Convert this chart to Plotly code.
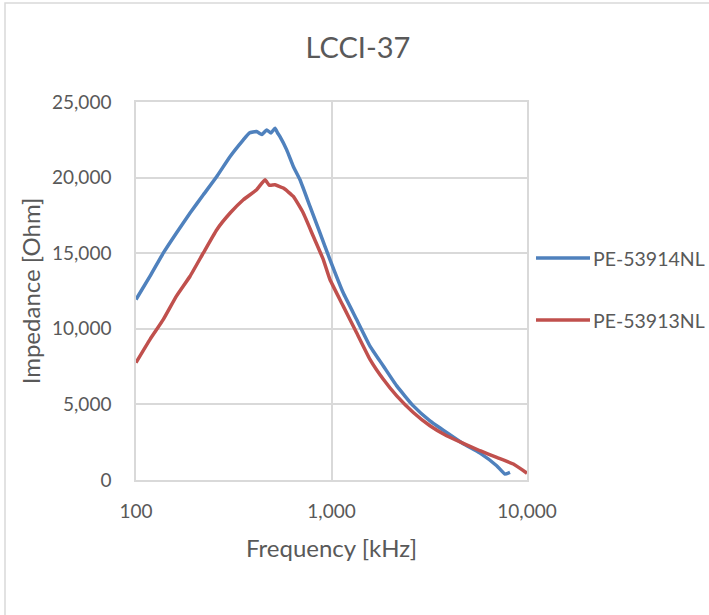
import plotly.graph_objects as go

# Series PE-53914NL (blue)
freq_914 = [100, 118, 138, 161, 189, 221, 259, 303, 354, 380, 414, 440, 466, 490, 514, 530, 545,
            590, 638, 690, 776, 873, 982, 1148, 1344, 1573, 1841, 2156, 2621, 3189, 3879,
            4722, 5750, 6998, 7709, 8186]
imp_914 = [11939, 13478, 15018, 16337, 17656, 18865, 20075, 21394, 22493, 22950, 23043, 22850,
           23153, 22950, 23263, 22950, 22713, 21834, 20734, 19855, 18096, 16337, 14578, 12379,
           10620, 8861, 7542, 6223, 4903, 3914, 3144, 2400, 1780, 945, 396, 506]

# Series PE-53913NL (red)
freq_913 = [100, 118, 138, 161, 189, 221, 259, 303, 354, 414, 457, 480, 514, 567, 638, 717, 807,
            908, 982, 1148, 1344, 1573, 1841, 2156, 2621, 3189, 3879, 4722, 5750, 6998, 8519, 10000]
imp_913 = [7761, 9301, 10620, 12159, 13478, 15018, 16557, 17656, 18536, 19195, 19855, 19500,
           19525, 19305, 18755, 17656, 16117, 14578, 13258, 11500, 9741, 7982, 6662, 5563, 4464,
           3584, 2924, 2420, 1935, 1495, 1055, 450]

series_names = ["PE-53914NL", "PE-53913NL"]
series_colors = ["#4F81BD", "#C0504D"]

x_ticks = [100, 1000, 10000]
x_ticklabels = ["100", "1,000", "10,000"]
y_ticks = [0, 5000, 10000, 15000, 20000, 25000]
y_ticklabels = ["0", "5,000", "10,000", "15,000", "20,000", "25,000"]

FONT = "Lato, 'Open Sans', sans-serif"
TXT = "#595959"
GRID = "#d9d9d9"

fig = go.Figure()
for fx, fy, nm, col in [(freq_914, imp_914, series_names[0], series_colors[0]),
                        (freq_913, imp_913, series_names[1], series_colors[1])]:
    fig.add_trace(go.Scatter(x=fx, y=fy, mode="lines", name=nm, showlegend=False,
                             line=dict(color=col, width=3.5, shape="spline", smoothing=0.4)))

# plot area: x 136..527, y 102..480 (pixels)
PL, PR, PT, PB = 136, 527, 102, 480
PW, PH = PR - PL, PB - PT

def px(x):
    return (x - PL) / PW

def py(y):
    return (PB - y) / PH

fig.update_layout(
    width=709, height=615,
    margin=dict(l=PL, r=709 - PR, t=PT, b=615 - PB),
    paper_bgcolor="white", plot_bgcolor="white",
    font=dict(family=FONT, color=TXT, size=19),
    title=dict(text="LCCI-37", x=358 / 709, xanchor="center", y=1 - 48 / 615, yanchor="middle",
               font=dict(size=29, color=TXT, family=FONT)),
    showlegend=False,
    xaxis=dict(type="log", range=[2, 4], tickvals=x_ticks, ticktext=x_ticklabels,
               showgrid=True, gridcolor=GRID, gridwidth=1.5, showline=True, linecolor=GRID,
               linewidth=1.5, mirror=True, zeroline=False, ticks="", ticklabelstandoff=13,
               tickfont=dict(size=19, color=TXT),
               title=dict(text="Frequency [kHz]", font=dict(size=24, color=TXT), standoff=20)),
    yaxis=dict(range=[0, 25000], tickvals=y_ticks, ticktext=y_ticklabels,
               showgrid=True, gridcolor=GRID, gridwidth=1.5, showline=True, linecolor=GRID,
               linewidth=1.5, mirror=True, zeroline=False, ticks="", ticklabelstandoff=19,
               tickfont=dict(size=19, color=TXT),
               title=dict(text="Impedance [Ohm]", font=dict(size=24, color=TXT), standoff=5)),
)

# custom legend (long line samples, as in the reference)
for i, (nm, col) in enumerate(zip(series_names, series_colors)):
    ly = 258 + 62 * i
    fig.add_shape(type="line", xref="paper", yref="paper",
                  x0=px(536), x1=px(590), y0=py(ly), y1=py(ly),
                  line=dict(color=col, width=3.5))
    fig.add_annotation(xref="paper", yref="paper", x=px(591), y=py(ly), text=nm,
                       showarrow=False, xanchor="left", yanchor="middle",
                       font=dict(size=19.5, color=TXT, family=FONT))

# outer chart border (extends beyond the window on right/bottom)
fig.add_shape(type="rect", xref="paper", yref="paper",
              x0=px(5), x1=px(760), y0=py(660), y1=py(3),
              line=dict(color=GRID, width=1.5), fillcolor="rgba(0,0,0,0)", layer="below")

fig.write_html("out.html", config={"displayModeBar": False},
               post_script="document.body.style.margin='0px';")
